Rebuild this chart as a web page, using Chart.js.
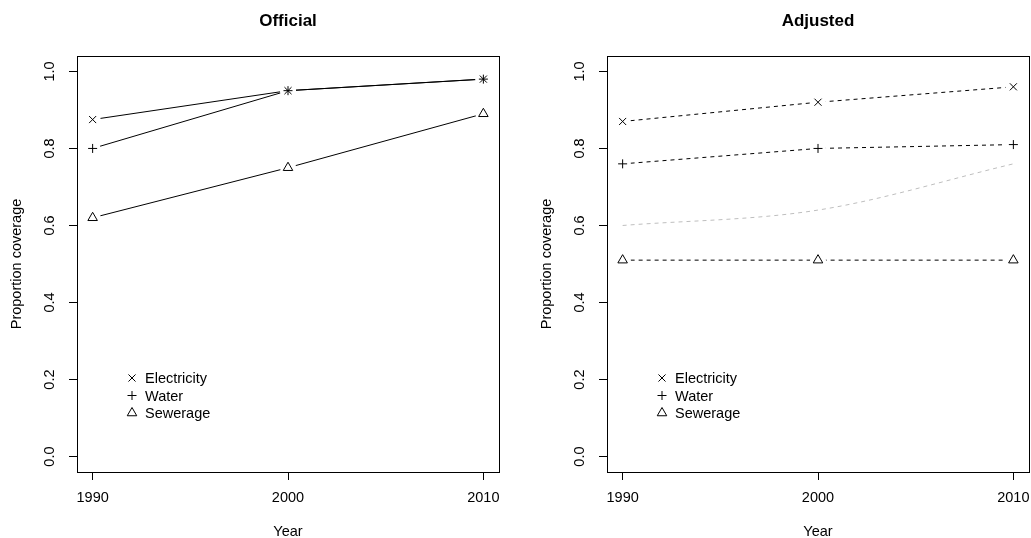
<!DOCTYPE html>
<html>
<head>
<meta charset="utf-8">
<script src="https://cdn.jsdelivr.net/npm/chart.js@4.4.1/dist/chart.umd.min.js"></script>
<style>
  html, body { margin:0; padding:0; background:#fff; overflow:hidden; }
  #wrap { position:relative; width:1031px; height:538px; overflow:hidden; }
  canvas { position:absolute; top:0; }
  #official { left:0; }
  #adjusted { left:530px; }
</style>
</head>
<body>
<div id="wrap">
  <canvas id="official" width="515" height="538"></canvas>
  <canvas id="adjusted" width="515" height="538"></canvas>
</div>
<script>
// Data
const years  = [1990, 2000, 2010];
const yTicks = [0, 0.2, 0.4, 0.6, 0.8, 1.0];
const seriesNames   = ['Electricity', 'Water', 'Sewerage'];
const seriesSymbols = ['crossRot', 'cross', 'triangle'];

const officialElectricity = [0.875, 0.95, 0.98];
const officialWater       = [0.80, 0.95, 0.98];
const officialSewerage    = [0.62, 0.75, 0.89];

const adjustedElectricity = [0.87, 0.92, 0.96];
const adjustedWater       = [0.76, 0.80, 0.81];
const adjustedSewerage    = [0.51, 0.51, 0.51];
const adjustedGreyLine    = [0.60, 0.64, 0.76];

const FONT = "'Liberation Sans', Arial, Helvetica, sans-serif";
const symRadius = { crossRot: 5, cross: 4.5, triangle: 5.5 };

const pts = vals => years.map((x, i) => ({ x, y: vals[i] }));

function drawSym(ctx, style, x, y, r){
  ctx.beginPath();
  if (style === 'cross'){
    ctx.moveTo(x - r, y); ctx.lineTo(x + r, y);
    ctx.moveTo(x, y - r); ctx.lineTo(x, y + r);
  } else if (style === 'crossRot'){
    const d = r * Math.SQRT1_2;
    ctx.moveTo(x - d, y - d); ctx.lineTo(x + d, y + d);
    ctx.moveTo(x - d, y + d); ctx.lineTo(x + d, y - d);
  } else {
    const a = 2 * Math.PI / 3;
    ctx.moveTo(x, y - r);
    ctx.lineTo(x + r * Math.sin(a), y - r * Math.cos(a));
    ctx.lineTo(x - r * Math.sin(a), y - r * Math.cos(a));
    ctx.closePath();
  }
  ctx.stroke();
}

// R-style frame: gaps around points (type="b"), box, rotated y labels, legend
const rFrame = {
  id: 'rFrame',
  afterDatasetsDraw(chart){
    const ctx = chart.ctx;
    const metas = chart.getSortedVisibleDatasetMetas().filter(m => chart.data.datasets[m.index].pointRadius > 0);
    ctx.save();
    ctx.fillStyle = '#fff';
    metas.forEach(m => m.data.forEach(el => {
      ctx.beginPath(); ctx.arc(el.x, el.y, 8, 0, Math.PI * 2); ctx.fill();
    }));
    ctx.restore();
    metas.forEach(m => m.data.forEach(el => el.draw(ctx, chart.chartArea)));
  },
  afterDraw(chart){
    const { ctx, chartArea:{ left, right, top, bottom }, scales:{ y } } = chart;
    ctx.save();
    ctx.strokeStyle = '#000'; ctx.lineWidth = 1;
    ctx.strokeRect(Math.round(left) + 0.5, Math.round(top) + 0.5, Math.round(right - left), Math.round(bottom - top));

    // y tick labels, vertical like R's las=0
    ctx.fillStyle = '#000';
    ctx.font = `14.5px ${FONT}`;
    ctx.textAlign = 'center'; ctx.textBaseline = 'middle';
    yTicks.forEach(v => {
      ctx.save();
      ctx.translate(left - 27, y.getPixelForValue(v));
      ctx.rotate(-Math.PI / 2);
      ctx.fillText(v.toFixed(1), 0, 0);
      ctx.restore();
    });

    // legend inside the plot
    ctx.textAlign = 'left';
    seriesNames.forEach((name, i) => {
      const ly = bottom - 94 + i * 17.5;
      drawSym(ctx, seriesSymbols[i], left + 55, ly, symRadius[seriesSymbols[i]]);
      ctx.fillText(name, left + 68, ly + 1);
    });
    ctx.restore();
  }
};

function series(label, vals, i, dashed){
  return {
    label, data: pts(vals),
    borderColor:'#000', borderWidth:1, borderDash: dashed ? [4,4] : [],
    pointStyle: seriesSymbols[i], pointRadius: symRadius[seriesSymbols[i]],
    pointBorderColor:'#000', pointBackgroundColor:'rgba(0,0,0,0)', pointBorderWidth:1,
    tension:0, fill:false
  };
}

function makeChart(id, title, datasets){
  return new Chart(document.getElementById(id), {
    type: 'line',
    data: { datasets },
    plugins: [rFrame],
    options: {
      responsive:false, animation:false, events:[],
      layout:{ padding:{ left:0, right:16, top:0, bottom:0 } },
      plugins:{
        legend:{ display:false }, tooltip:{ enabled:false },
        title:{ display:true, text:title, fullSize:false, color:'#000',
                font:{ family:FONT, size:17, weight:'bold' }, padding:{ top:10.8, bottom:24.8 } }
      },
      scales:{
        x:{
          type:'linear', min:1989.2, max:2010.8,
          afterBuildTicks: s => { s.ticks = years.map(v => ({ value:v })); },
          afterFit: s => { s.height = 66; },
          grid:{ drawOnChartArea:false, drawTicks:true, tickLength:8, color:'#000' },
          border:{ display:true, color:'#000', width:1 },
          ticks:{ color:'#000', font:{ family:FONT, size:14.5 }, padding:9, maxRotation:0, callback: v => String(v) },
          title:{ display:true, text:'Year', color:'#000', font:{ family:FONT, size:14.5 }, padding:{ top:0, bottom:-3 } }
        },
        y:{
          type:'linear', min:-0.04, max:1.04,
          afterBuildTicks: s => { s.ticks = yTicks.map(v => ({ value:v })); },
          afterFit: s => { s.width = 77; },
          grid:{ drawOnChartArea:false, drawTicks:true, tickLength:8, color:'#000' },
          border:{ display:true, color:'#000', width:1 },
          ticks:{ display:false },
          title:{ display:true, text:'Proportion coverage', color:'#000', font:{ family:FONT, size:14.5 }, padding:{ top:8.3, bottom:0 } }
        }
      }
    }
  });
}

makeChart('official', 'Official', [
  series('Electricity', officialElectricity, 0, false),
  series('Water', officialWater, 1, false),
  series('Sewerage', officialSewerage, 2, false)
]);

makeChart('adjusted', 'Adjusted', [
  series('Electricity', adjustedElectricity, 0, true),
  series('Water', adjustedWater, 1, true),
  { label:'Trend', data: pts(adjustedGreyLine), borderColor:'#bebebe', borderWidth:1, borderDash:[4,4],
    pointRadius:0, cubicInterpolationMode:'monotone', fill:false },
  series('Sewerage', adjustedSewerage, 2, true)
]);
</script>
</body>
</html>
